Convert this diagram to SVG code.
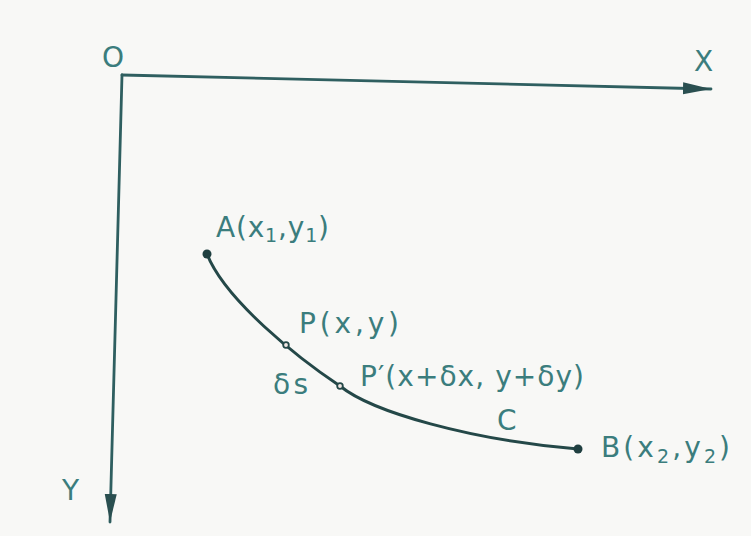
<svg xmlns="http://www.w3.org/2000/svg" width="751" height="536" viewBox="0 0 751 536">
  <style>
    .ax { fill: none; stroke: #2f5f60; stroke-width: 2.8; stroke-linecap: round; }
    .crv { fill: none; stroke: #244848; stroke-width: 3; stroke-linecap: round; }
    .lbl { font-family: "DejaVu Sans", "Liberation Sans", sans-serif; font-size: 28px; fill: #3b7d7d; }
    .sub { font-size: 19px; }
    .dot { fill: #1f3f40; }
    .pt { fill: #f2e8e4; stroke: #244848; stroke-width: 1.8; }
  </style>
  <defs>
    <marker id="arr" markerUnits="userSpaceOnUse" markerWidth="30" markerHeight="14" refX="28" refY="6" orient="auto">
      <path d="M0,0 L28,6 L0,12 Z" fill="#2a4f50"/>
    </marker>
  </defs>
  <rect width="751" height="536" fill="#f8f8f6"/>
  <g id="connectors">
    <path id="x-axis" class="ax" d="M122,75 L711,89" marker-end="url(#arr)"/>
    <path id="y-axis" class="ax" d="M122,75 L110,522" marker-end="url(#arr)"/>
    <path id="curve-C" class="crv" d="M207,254 C225,300 298,358 340,386 C372,412 470,440 578,449"/>
  </g>
  <g id="origin"><text class="lbl" x="102" y="67">O</text></g>
  <g id="label-X"><text class="lbl" x="694" y="71">X</text></g>
  <g id="label-Y"><text class="lbl" x="62" y="500">Y</text></g>
  <g id="node-A">
    <circle class="dot" cx="207" cy="254" r="4.5"/>
    <text class="lbl" x="216" y="237" textLength="113" lengthAdjust="spacing">A(x<tspan class="sub" dy="5">1</tspan><tspan dy="-5">,y</tspan><tspan class="sub" dy="5">1</tspan><tspan dy="-5">)</tspan></text>
  </g>
  <g id="node-P">
    <circle class="pt" cx="286" cy="345" r="2.8"/>
    <text class="lbl" x="299" y="333" textLength="100" lengthAdjust="spacing">P(x,y)</text>
  </g>
  <g id="label-ds"><text class="lbl" x="273" y="394" textLength="35" lengthAdjust="spacing">δs</text></g>
  <g id="node-P2">
    <circle class="pt" cx="340" cy="386" r="2.8"/>
    <text class="lbl" x="360" y="386" textLength="224" lengthAdjust="spacing">P′(x+δx, y+δy)</text>
  </g>
  <g id="label-C"><text class="lbl" x="497" y="430">C</text></g>
  <g id="node-B">
    <circle class="dot" cx="578" cy="449" r="4.5"/>
    <text class="lbl" x="601" y="457" textLength="129" lengthAdjust="spacing">B(x<tspan class="sub" dy="6">2</tspan><tspan dy="-6">,y</tspan><tspan class="sub" dy="6">2</tspan><tspan dy="-6">)</tspan></text>
  </g>
</svg>
